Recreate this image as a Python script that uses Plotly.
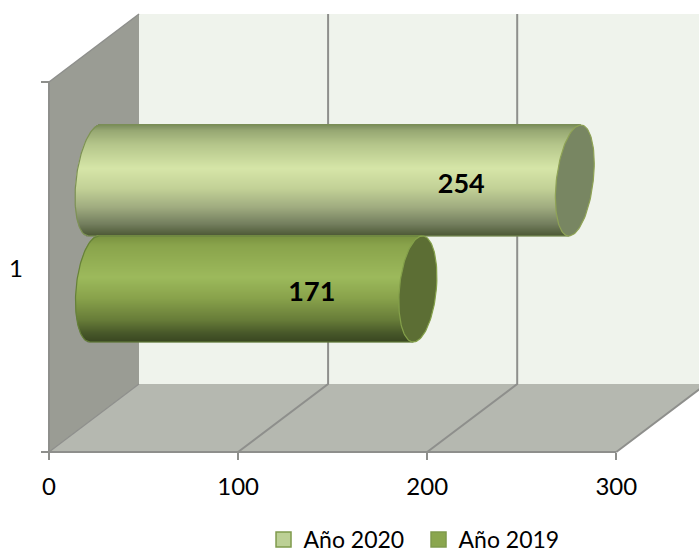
import numpy as np
import plotly.graph_objects as go

categories = ["1"]
series_names = ["Año 2020", "Año 2019"]
values = [254, 171]
tick_values = [0, 100, 200, 300]
label_offsets = [-36, -32]

# --- layout geometry (pixels of the 699x552 page) ---
W, H = 699, 552
X0, PX = 49.0, 1.891            # pixel of value 0, pixels per unit
FLOOR_Y, BACK_Y, TOP_Y, WALL_TOP = 452, 384, 14, 82
DEPTH = 90 / PX                 # full chart depth in value units
BAR_DEPTH = 45.5 / PX           # depth of the bar axis
BANDS = [(125, 236), (236, 342)]
ELL_A = 18.5 / PX
ELL_S = [6 / PX, 4.5 / PX]
body_stops = [
    [(0, "#76875a"), (.06, "#97a873"), (.18, "#b4c58a"), (.40, "#d6e6a8"), (.58, "#c3d297"),
     (.75, "#a0ac80"), (.90, "#747f5f"), (1, "#4f5b38")],
    [(0, "#78913f"), (.10, "#8aa44c"), (.40, "#9dba5c"), (.60, "#88a24b"),
     (.80, "#687d39"), (.93, "#475729"), (1, "#3b4822")],
]
cap_fill = ["#788662", "#5c6e34"]
cap_line = ["#8fa356", "#84a04a"]
edge_line = ["#7d9155", "#66803a"]
legend_fill = ["#bcd095", "#8aa64e"]
legend_edge = ["#7f9a4c", "#7f9a4c"]
GRID = "#8e8f8c"


def hex_rgb(h):
    return np.array([int(h[i:i + 2], 16) for i in (1, 3, 5)], float)


def ramp(stops, t):
    pos = [s[0] for s in stops]
    rgb = np.array([hex_rgb(s[1]) for s in stops])
    return "rgb(%d,%d,%d)" % tuple(np.interp(t, pos, rgb[:, i]) for i in range(3))


fig = go.Figure()
centre0 = BAR_DEPTH

for i, (name, value) in enumerate(zip(series_names, values)):
    top, bot = BANDS[i]
    cy, hh = (top + bot) / 2, (bot - top) / 2
    ys = np.arange(top, bot) + 0.5
    u = (ys - cy) / hh
    round_ = ELL_A * np.sqrt(1 - u ** 2)
    shear = -ELL_S[i] * u
    left = centre0 - round_ + shear
    right = value + centre0 + shear
    fig.add_trace(go.Bar(
        orientation="h", y=ys, base=left, x=right - left, width=np.full(ys.shape, 1.25),
        marker=dict(color=[ramp(body_stops[i], (y - top) / (bot - top)) for y in ys], line=dict(width=0)),
        showlegend=False, hoverinfo="skip"))
    # outline of the rounded start and long edges
    tt = np.linspace(-1, 1, 61)
    ex = centre0 - ELL_A * np.sqrt(1 - tt ** 2) - ELL_S[i] * tt
    ey = cy + hh * tt
    fig.add_trace(go.Scatter(
        x=np.r_[value + centre0 + ELL_S[i], ex, value + centre0 - ELL_S[i]],
        y=np.r_[top, ey, bot], mode="lines", line=dict(color=edge_line[i], width=1.2),
        showlegend=False, hoverinfo="skip"))
    # value end cap
    t = np.linspace(0, 2 * np.pi, 121)
    fig.add_trace(go.Scatter(
        x=value + centre0 + ELL_A * np.cos(t) - ELL_S[i] * np.sin(t), y=cy + hh * np.sin(t),
        mode="lines", fill="toself", fillcolor=cap_fill[i], line=dict(color=cap_line[i], width=1.2),
        showlegend=False, hoverinfo="skip"))
    fig.add_trace(go.Scatter(
        x=[value + label_offsets[i]], y=[186 if i == 0 else 294], mode="text", text=[str(value)],
        textfont=dict(family="Lato", size=27, color="#000000", weight="bold"),
        showlegend=False, hoverinfo="skip"))

for i, name in enumerate(series_names):
    fig.add_trace(go.Scatter(
        x=[None], y=[None], mode="markers", name=name,
        marker=dict(symbol="square", size=15, color=legend_fill[i], line=dict(color=legend_edge[i], width=1.5))))

vmax = max(tick_values)
shapes = [
    # back wall, floor, side wall
    dict(type="path", path=f"M {DEPTH} {TOP_Y} L {vmax + DEPTH} {TOP_Y} L {vmax + DEPTH} {BACK_Y} L {DEPTH} {BACK_Y} Z",
         fillcolor="#eff3ec", line=dict(width=0), layer="below"),
    dict(type="path", path=f"M 0 {FLOOR_Y} L {vmax} {FLOOR_Y} L {vmax + DEPTH} {BACK_Y} L {DEPTH} {BACK_Y} Z",
         fillcolor="#b5b8b0", line=dict(width=0), layer="below"),
    dict(type="path", path=f"M 0 {WALL_TOP} L {DEPTH} {TOP_Y} L {DEPTH} {BACK_Y} L 0 {FLOOR_Y} Z",
         fillcolor="#9a9c94", line=dict(width=0), layer="below"),
    dict(type="line", x0=0, x1=DEPTH, y0=WALL_TOP, y1=TOP_Y, line=dict(color=GRID, width=1.5), layer="below"),
    dict(type="line", x0=0, x1=DEPTH, y0=FLOOR_Y, y1=BACK_Y, line=dict(color=GRID, width=1.2), layer="below"),
    dict(type="line", x0=0, x1=0, y0=WALL_TOP, y1=FLOOR_Y, line=dict(color=GRID, width=2), layer="below"),
    dict(type="line", x0=0, x1=vmax, y0=FLOOR_Y, y1=FLOOR_Y, line=dict(color=GRID, width=2), layer="below"),
]
for v in tick_values[1:]:
    shapes.append(dict(type="path", path=f"M {v} {FLOOR_Y} L {v + DEPTH} {BACK_Y} L {v + DEPTH} {TOP_Y}",
                       line=dict(color=GRID, width=2), layer="below"))
for y in (WALL_TOP, FLOOR_Y):
    shapes.append(dict(type="line", x0=-8 / PX, x1=0, y0=y, y1=y, line=dict(color=GRID, width=2), layer="below"))

FONT = "Lato"
fig.update_layout(
    width=W, height=H, margin=dict(l=0, r=0, t=0, b=0, autoexpand=False), autosize=False,
    paper_bgcolor="white", plot_bgcolor="white", barmode="overlay", shapes=shapes,
    font=dict(family=FONT, size=24, color="#000000"),
    xaxis=dict(range=[-X0 / PX, (W - X0) / PX], domain=[0, 1], tickmode="array", tickvals=tick_values,
               showgrid=False, zeroline=False, showline=False, anchor="free", position=1 - FLOOR_Y / H,
               ticks="outside", ticklen=7, tickwidth=2, tickcolor=GRID, ticklabelstandoff=6,
               tickfont=dict(family=FONT, size=24, color="#000000")),
    yaxis=dict(range=[H, 0], domain=[0, 1], visible=False),
    legend=dict(orientation="h", x=0.377, y=1 - 539.5 / H, xanchor="left", yanchor="middle",
                font=dict(family=FONT, size=23), itemwidth=30, entrywidth=110, entrywidthmode="pixels",
                traceorder="normal", bgcolor="rgba(0,0,0,0)"),
    annotations=[dict(x=-X0 / PX + 16 / PX, y=267, xref="x", yref="y", text=categories[0], showarrow=False,
                      font=dict(family=FONT, size=24, color="#000000"))],
)
fig.write_html("out.html", config=dict(displayModeBar=False),
               post_script="document.body.style.margin='0';document.body.style.overflow='hidden';")
